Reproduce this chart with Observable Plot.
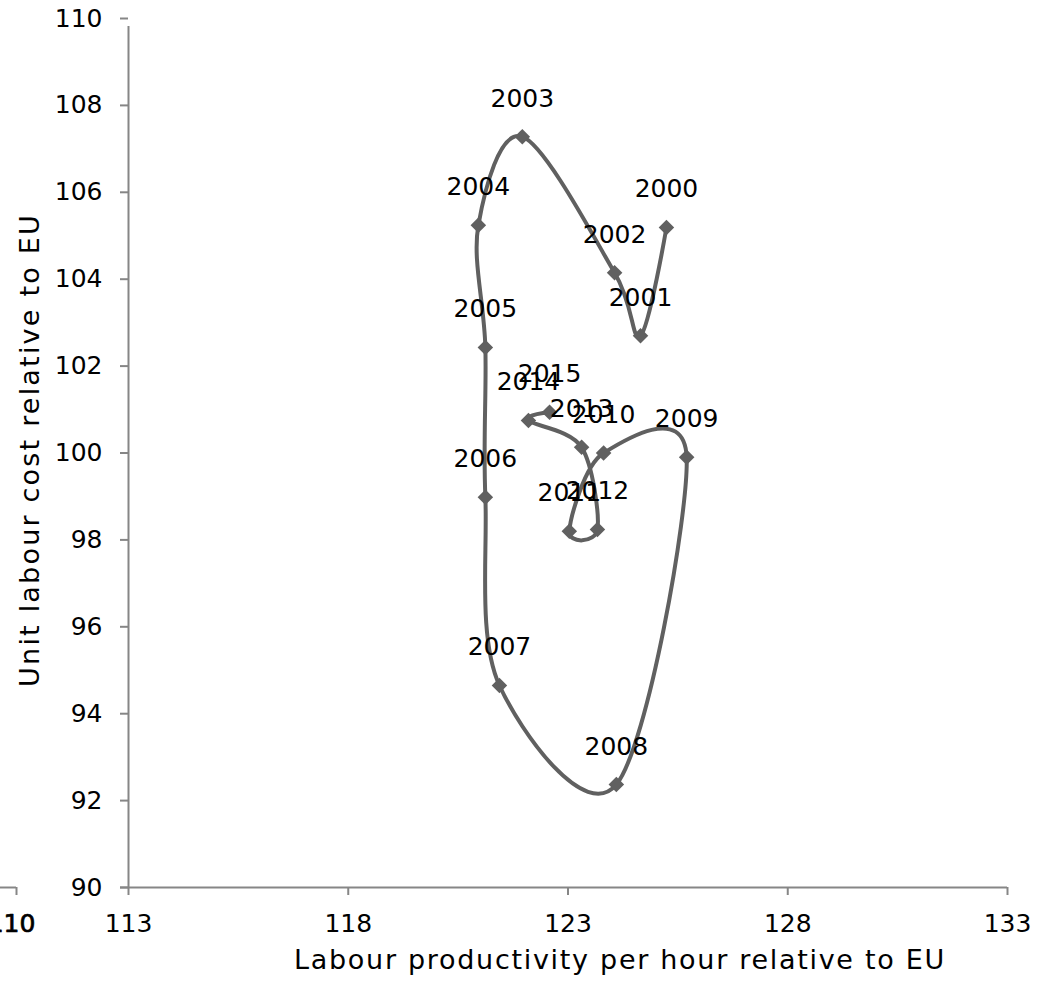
<!DOCTYPE html>
<html>
<head>
<meta charset="utf-8">
<script src="https://cdn.jsdelivr.net/npm/d3@7"></script>
<script src="https://cdn.jsdelivr.net/npm/@observablehq/plot@0.6"></script>
<style>
  html, body { margin: 0; padding: 0; background: #fff; }
  #chart svg { display: block; }
</style>
</head>
<body>
<div id="chart"></div>
<script>
// Data
const years = ["2000","2001","2002","2003","2004","2005","2006","2007","2008","2009","2010","2011","2012","2013","2014","2015"];
const productivity = [125.24, 124.65, 124.06, 121.96, 120.96, 121.12, 121.12, 121.44, 124.10, 125.70, 123.81, 123.03, 123.67, 123.31, 122.10, 122.58];
const unitLabourCost = [105.19, 102.70, 104.15, 107.28, 105.24, 102.43, 98.98, 94.65, 92.37, 99.90, 100.00, 98.20, 98.24, 100.13, 100.75, 100.94];
const xTicks = [113, 118, 123, 128, 133];
const xStrayTick = [110];
const yTicks = [90, 92, 94, 96, 98, 100, 102, 104, 106, 108, 110];
const xTitle = "Labour productivity per hour relative to EU";
const yTitle = "Unit labour cost relative to EU";

const data = years.map((year, i) => ({year, x: productivity[i], y: unitLabourCost[i]}));

const axisColor = "#868686";
const seriesColor = "#606060";
const font = "'DejaVu Sans', sans-serif";

const chart = Plot.plot({
  width: 1043,
  height: 998,
  marginTop: 18,
  marginBottom: 111,
  marginLeft: 128,
  marginRight: 36,
  style: {fontFamily: font, background: "#fff", color: "#000"},
  x: {type: "linear", domain: [110, 113, 133], range: [16, 128, 1007], axis: null},
  y: {domain: [90, 110], axis: null},
  marks: [
    // y axis line (extends below as the 113 tick)
    Plot.ruleX([113], {y1: 90, y2: 110, stroke: axisColor, strokeWidth: 2, insetBottom: -8}),
    // y ticks
    Plot.ruleY(yTicks, {y: d => d, x1: 113, x2: 113, insetLeft: -8, stroke: axisColor, strokeWidth: 2}),
    Plot.text(yTicks, {y: d => d, x: 113, dx: -26, textAnchor: "end", fontSize: 25, fill: "#000"}),
    // x axis line
    Plot.ruleY([90], {x1: 113, x2: 133, insetLeft: -8, stroke: axisColor, strokeWidth: 2}),
    // stray fragment of axis at 110
    Plot.ruleY([90], {x1: 110, x2: 110, insetLeft: -16, stroke: axisColor, strokeWidth: 2}),
    Plot.ruleX(xStrayTick, {x: d => d, y1: 90, y2: 90, insetBottom: -8, stroke: axisColor, strokeWidth: 2}),
    Plot.text(xStrayTick, {x: d => d, y: 90, dy: 36, dx: -5, fontSize: 25, fill: "#000", stroke: "#000", strokeWidth: 0.7}),
    // x ticks
    Plot.ruleX(xTicks, {x: d => d, y1: 90, y2: 90, insetBottom: -8, stroke: axisColor, strokeWidth: 2}),
    Plot.text(xTicks, {x: d => d, y: 90, dy: 36, fontSize: 25, fill: "#000"}),
    // series
    Plot.line(data, {x: "x", y: "y", curve: "cardinal", stroke: seriesColor, strokeWidth: 4}),
    Plot.dot(data, {x: "x", y: "y", symbol: "diamond2", r: 7, fill: seriesColor, stroke: "none"}),
    Plot.text(data, {x: "x", y: "y", text: "year", dy: -38, fontSize: 25, fill: "#000"}),
    // axis titles
    Plot.text([xTitle], {frameAnchor: "bottom", lineAnchor: "middle", textAnchor: "middle", dx: 52, dy: 73, fontSize: 27, fill: "#000"}),
    Plot.text([yTitle], {frameAnchor: "left", lineAnchor: "middle", textAnchor: "middle", dx: -98, dy: -3, rotate: -90, fontSize: 27, fill: "#000"})
  ]
});
const svgSel = d3.select(chart);
svgSel.selectAll("text").filter(function() { return this.textContent === xTitle; }).attr("letter-spacing", "1.7px");
svgSel.selectAll("text").filter(function() { return this.textContent === yTitle; }).attr("letter-spacing", "2.2px");
document.getElementById("chart").appendChild(chart);
</script>
</body>
</html>
